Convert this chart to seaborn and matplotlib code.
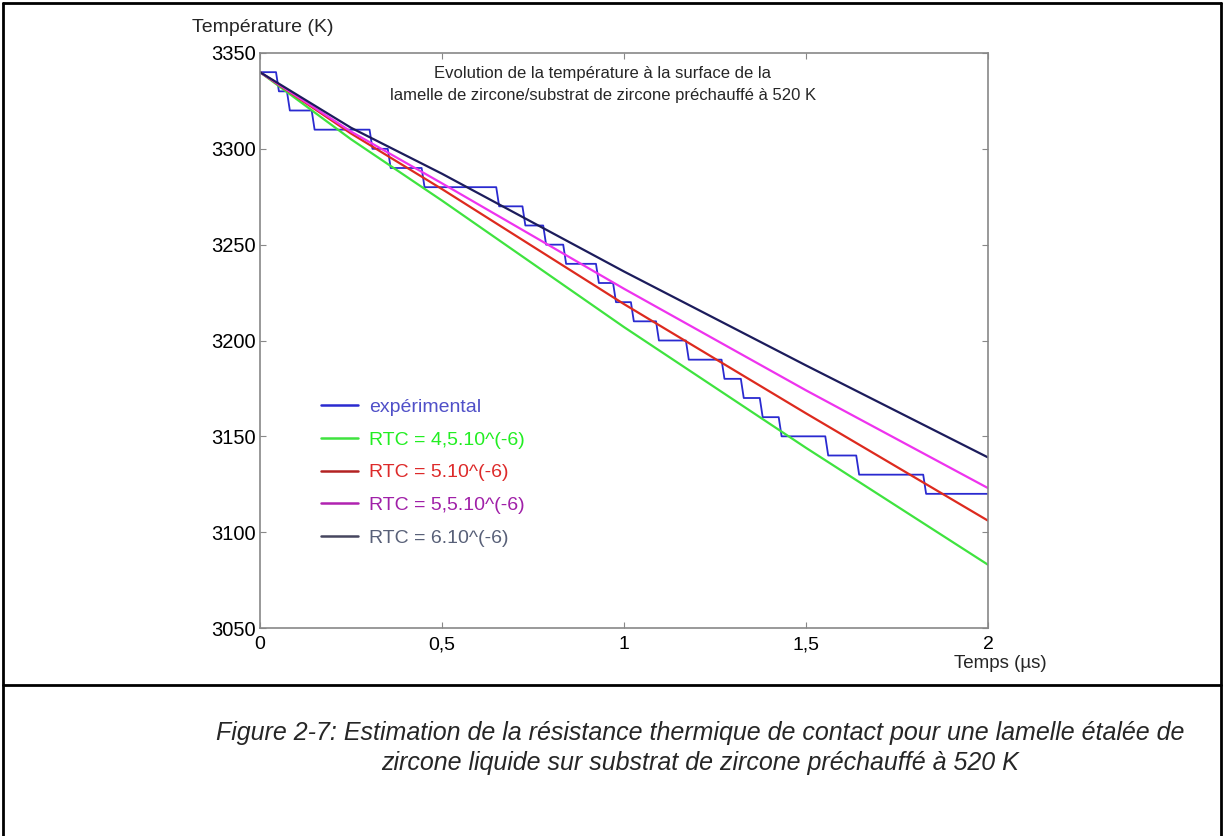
import numpy as np
import pandas as pd
import matplotlib
matplotlib.use("Agg")
import matplotlib.pyplot as plt
import seaborn as sns
from matplotlib.lines import Line2D

# time axis (µs) for the model curves
t_model = [0.0, 0.25, 0.5, 1.0, 1.5, 2.0]
T_rtc_45 = [3340, 3305, 3273, 3207, 3144, 3083]
T_rtc_50 = [3340, 3308, 3279, 3219, 3162, 3106]
T_rtc_55 = [3340, 3309, 3282, 3227, 3174, 3123]
T_rtc_60 = [3340, 3311, 3287, 3236, 3187, 3139]

# experimental staircase: temperature levels and the times where it drops
T_levels = [3340, 3330, 3320, 3310, 3300, 3290, 3280, 3270, 3260, 3250, 3240, 3230,
            3220, 3210, 3200, 3190, 3180, 3170, 3160, 3150, 3140, 3130, 3120]
t_drops = [0.044, 0.074, 0.142, 0.301, 0.351, 0.444, 0.649, 0.721, 0.778, 0.833, 0.923,
           0.970, 1.019, 1.088, 1.170, 1.268, 1.321, 1.373, 1.425, 1.553, 1.638, 1.822]
t_end = 2.0

labels = ["expérimental", "RTC = 4,5.10^(-6)", "RTC = 5.10^(-6)",
          "RTC = 5,5.10^(-6)", "RTC = 6.10^(-6)"]
colors = ["#2a2ad0", "#3fe33f", "#dd2a1e", "#ee33ee", "#1c1c5c"]

# build staircase vertices (small slant on the drops, like the original)
slant = 0.008
ex_t, ex_T = [0.0], [T_levels[0]]
for i, td in enumerate(t_drops):
    ex_t += [td, td + slant]
    ex_T += [T_levels[i], T_levels[i + 1]]
ex_t.append(t_end)
ex_T.append(T_levels[-1])

frames = [pd.DataFrame({"t": ex_t, "T": ex_T, "serie": labels[0]})]
for lab, vals in zip(labels[1:], [T_rtc_45, T_rtc_50, T_rtc_55, T_rtc_60]):
    frames.append(pd.DataFrame({"t": t_model, "T": vals, "serie": lab}))
df = pd.concat(frames, ignore_index=True)

sns.set_style("white")
plt.rcParams['font.family'] = ['Liberation Sans', 'DejaVu Sans']

fig = plt.figure(figsize=(12.24, 8.36), dpi=100)
ax = fig.add_axes([260 / 1224, 1 - 628 / 836, 728 / 1224, 575 / 836])

sns.lineplot(data=df, x="t", y="T", hue="serie", hue_order=labels,
             palette=dict(zip(labels, colors)), sort=False, estimator=None,
             linewidth=1.6, ax=ax, legend=False)
ax.lines[0].set_linewidth(1.3)

ax.set_xlim(0, 2)
ax.set_ylim(3050, 3350)
ax.set_xticks([0, 0.5, 1, 1.5, 2])
ax.set_xticklabels(["0", "0,5", "1", "1,5", "2"], fontsize=14)
ax.set_yticks(range(3050, 3351, 50))
ax.set_yticklabels([str(v) for v in range(3050, 3351, 50)], fontsize=14.5)
ax.set_xlabel("")
ax.set_ylabel("")
ax.tick_params(direction="in", length=4, color="#888888", top=True, right=True,
               left=True, bottom=True, labelcolor="black")
ax.tick_params(axis="y", pad=3)
ax.tick_params(axis="x", pad=6)
for s in ax.spines.values():
    s.set_color("#888888")
    s.set_linewidth(1.2)

ax.text(0.471, 0.978, "Evolution de la température à la surface de la\n"
        "lamelle de zircone/substrat de zircone préchauffé à 520 K",
        transform=ax.transAxes, ha="center", va="top", fontsize=12, linespacing=1.6)

handles = [Line2D([], [], color=c, lw=1.8) for c in colors]
handles[2].set_color("#b32222")
handles[3].set_color("#b022b0")
handles[4].set_color("#46465f")
leg = ax.legend(handles, labels, loc="upper left", bbox_to_anchor=(0.06, 0.43),
                frameon=False, fontsize=14, handlelength=1.9, handletextpad=0.55,
                labelspacing=0.78)
for txt, c in zip(leg.get_texts(), ["#5050c8", "#22ee22", "#dd2a2a", "#a020a8", "#586078"]):
    txt.set_color(c)

fig.text(192 / 1224, 1 - 27 / 836, "Température (K)", fontsize=14, va="center", ha="left")
fig.text(1000 / 1224, 1 - 663 / 836, "Temps (µs)", fontsize=13.5, va="center", ha="center")

# frame of the figure block
bk = dict(color="black", lw=2, transform=fig.transFigure)
fig.add_artist(Line2D([3 / 1224, 1221 / 1224], [1 - 3 / 836, 1 - 3 / 836], **bk))
fig.add_artist(Line2D([3 / 1224, 3 / 1224], [0, 1 - 3 / 836], **bk))
fig.add_artist(Line2D([1221 / 1224, 1221 / 1224], [0, 1 - 3 / 836], **bk))
fig.add_artist(Line2D([3 / 1224, 1221 / 1224], [1 - 685 / 836, 1 - 685 / 836], **bk))

fig.text(700 / 1224, 1 - 748 / 836,
         "Figure 2-7: Estimation de la résistance thermique de contact pour une lamelle étalée de\n"
         "zircone liquide sur substrat de zircone préchauffé à 520 K",
         ha="center", va="center", fontsize=18, style="italic", linespacing=1.3)

fig.savefig("out.png", dpi=100)
